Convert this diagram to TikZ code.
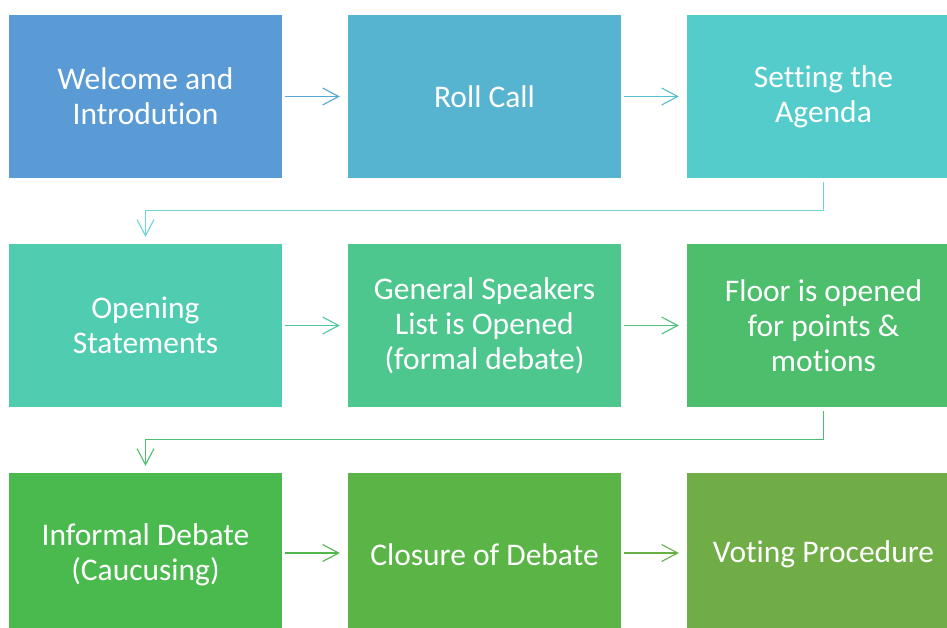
\documentclass[tikz,border=0pt]{standalone}
\usepackage{fontspec}
\setmainfont[Ligatures={NoCommon}]{Carlito}
\usetikzlibrary{arrows.meta}
\definecolor{cA}{RGB}{91,155,213}
\definecolor{cB}{RGB}{86,180,208}
\definecolor{cC}{RGB}{84,204,204}
\definecolor{cD}{RGB}{80,204,176}
\definecolor{cE}{RGB}{78,199,143}
\definecolor{cF}{RGB}{76,190,108}
\definecolor{cG}{RGB}{74,186,78}
\definecolor{cH}{RGB}{90,181,70}
\definecolor{cI}{RGB}{112,173,71}
\begin{document}
\begin{tikzpicture}[x=1pt,y=-1pt,
  stepbox/.style={rectangle,minimum width=273pt,minimum height=163pt,inner sep=0pt,
    text=white,align=center,font=\fontsize{31.5}{35}\selectfont},
  link/.style={line width=1.1pt,-{Straight Barb[length=16pt,width=17pt,line width=1.1pt]}}]
\useasboundingbox (0,0) rectangle (947,628);
\clip (0,0) rectangle (947,628);
\fill[white] (0,0) rectangle (947,628);
% row one
\node[stepbox,fill=cA] (n1) at (145.5,96.5) {Welcome and\\Introdution};
\node[stepbox,fill=cB] (n2) at (484.5,96.5) {Roll Call};
\node[stepbox,fill=cC] (n3) at (823.5,96.5) {Setting the\\Agenda};
% row two
\node[stepbox,fill=cD] (n4) at (145.5,325.5) {Opening\\Statements};
\node[stepbox,fill=cE] (n5) at (484.5,325.5) {General Speakers\\List is Opened\\(formal debate)};
\node[stepbox,fill=cF] (n6) at (823.5,325.5) {Floor is opened\\for points \&\\motions};
% row three
\node[stepbox,fill=cG] (n7) at (145.5,554.5) {Informal Debate\\(Caucusing)};
\node[stepbox,fill=cH] (n8) at (484.5,554.5) {Closure of Debate};
\node[stepbox,fill=cI] (n9) at (823.5,554.5) {Voting Procedure};
% connectors
\draw[link,draw=cA!50!cB] ([xshift=3pt]n1.east) -- ([xshift=-8pt]n2.west);
\draw[link,draw=cB!50!cC] ([xshift=3pt]n2.east) -- ([xshift=-8pt]n3.west);
\draw[link,draw=cC!85!white] ([yshift=-4pt]n3.south) -- ++(0,28) -| ([yshift=7pt]n4.north);
\draw[link,draw=cD!50!cE] ([xshift=3pt]n4.east) -- ([xshift=-8pt]n5.west);
\draw[link,draw=cE!50!cF] ([xshift=3pt]n5.east) -- ([xshift=-8pt]n6.west);
\draw[link,draw=cF] ([yshift=-4pt]n6.south) -- ++(0,28) -| ([yshift=7pt]n7.north);
\draw[link,draw=cG!50!cH] ([xshift=3pt,yshift=1.5pt]n7.east) -- ([xshift=-8pt,yshift=1.5pt]n8.west);
\draw[link,draw=cH!50!cI] ([xshift=3pt,yshift=1.5pt]n8.east) -- ([xshift=-8pt,yshift=1.5pt]n9.west);
\end{tikzpicture}
\end{document}
